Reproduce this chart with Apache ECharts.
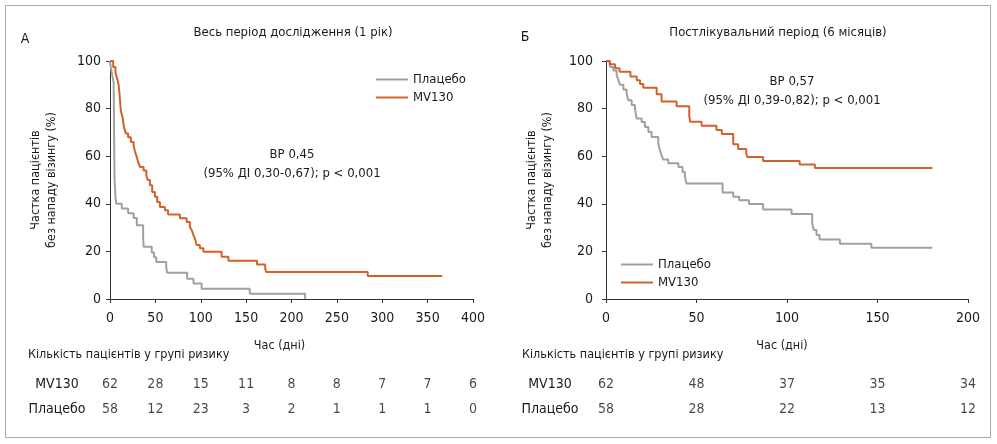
<!DOCTYPE html>
<html lang="uk">
<head>
	<meta charset="utf-8" />
	<title>Kaplan-Meier MV130</title>
	<script src="https://cdn.jsdelivr.net/npm/echarts@6/dist/echarts.min.js"></script>
	<style>
		html, body { margin: 0; padding: 0; background: #fff; }
		#chart { width: 997px; height: 444px; }
	</style>
</head>
<body>
	<div id="chart"></div>
	<script>
		// криві Каплана-Мейєра: [день, % без нападу]
		var leftMv = [[0,100],[3.5,97.5],[6,95],[8,92.5],[9.5,90],[10.5,86],[11,83.5],[12,79],[14,76],[15.5,72],
			[17.5,69.5],[20,68],[23,66],[26,64.5],[27.5,62],[29.5,59.7],[31,57.6],[33,55.5],[37,54],[40,52],
			[41.5,50],[44,47.8],[46.5,45],[49.5,43],[52,40.8],[55,38.7],[60.5,37.3],[64,35.5],[77,33.9],[84.5,32.4],
			[88,30.3],[90,29],[92,26.8],[94,24.8],[95.5,22.7],[99,21.3],[103,19.9],[123,17.8],[130.5,16.1],
			[162,14.5],[171,12.9],[172,11.3],[284,9.7],[366,9.7]];
		var leftPl = [[0,100],[1,97],[2,95],[3,93],[4,91],[5,50],[5.5,47],[6,43],[7,40],[13,38],[20,36],[26,34],
			[29.5,31],[36.5,26],[37,22],[46,19.5],[48.5,17.5],[51,15.5],[62,13],[63,11],[85,8.5],[92,6.5],
			[101,4.3],[154,2.2],[215,0]];
		var rightMv = [[0,100],[2,98.6],[5,97],[7.5,95.5],[13.5,93.5],[17,91.9],[18.8,90.3],[20.6,88.8],[28,86],
			[30.7,83],[39,81],[46,77],[46.5,74.5],[52.8,72.8],[61,71],[64,69.3],[70.3,65],[73,63],[77.5,61],
			[78,59.7],[86.8,58],[107,56.5],[115.4,55],[180.3,55]];
		var rightPl = [[0,100],[2.2,97.5],[4,96],[5.9,94],[6.8,92],[7.7,90],[9.6,88],[11.4,86.3],[12.3,83.5],
			[14.2,81.5],[16,80],[16.9,75.8],[19.7,74.4],[21.5,72.3],[23.4,70.2],[25.2,68.1],[28.9,65.3],[29.8,62.5],
			[30.7,60.4],[31.6,58.6],[34.4,57],[40,55.5],[42.3,53.4],[43.6,51.3],[44.5,48.5],[64.4,44.7],[70.3,43],
			[73.6,41.5],[79,39.9],[86.8,37.6],[102.5,35.7],[113.9,31.7],[114.8,29],[116.3,26.9],[118,25],
			[129.2,23.2],[146.6,21.5],[180.3,21.5]];

		// кількість пацієнтів у групі ризику
		var leftRiskDays = [0, 50, 100, 150, 200, 250, 300, 350, 400];
		var leftRiskMv = [62, 28, 15, 11, 8, 8, 7, 7, 6];
		var leftRiskPl = [58, 12, 23, 3, 2, 1, 1, 1, 0];
		var rightRiskDays = [0, 50, 100, 150, 200];
		var rightRiskMv = [62, 48, 37, 35, 34];
		var rightRiskPl = [58, 28, 22, 13, 12];

		var groups = ['MV130', 'Плацебо'];
		var colMv = '#d2622a';
		var colPl = '#a0a0a0';
		var font = "'DejaVu Sans Condensed', 'DejaVu Sans', sans-serif";
		var ink = '#1a1a1a';

		function riskRows(days, mv, pl) {
			var rows = [];
			for (var i = 0; i < days.length; i++) {
				rows.push([days[i], groups[0], mv[i]]);
				rows.push([days[i], groups[1], pl[i]]);
			}
			return rows;
		}

		function kmX(max, shift) {
			return {
				type: 'value', min: 0, max: max, interval: 50,
				name: 'Час (дні)', nameLocation: 'middle', nameGap: 40,
				nameTextStyle: { fontSize: 12.5, color: ink, fontFamily: font, padding: [0, shift, 0, 0] },
				axisLine: { lineStyle: { color: '#333', width: 1 } },
				axisTick: { length: 4, lineStyle: { color: '#333' } },
				axisLabel: { fontSize: 14, color: ink, fontFamily: font, margin: 12 },
				splitLine: { show: false }
			};
		}
		function kmY(margin) {
			return {
				type: 'value', min: 0, max: 100, interval: 20,
				name: 'Частка пацієнтів\nбез нападу візингу (%)', nameLocation: 'middle', nameGap: 50,
				nameTextStyle: { fontSize: 12.5, color: ink, fontFamily: font, lineHeight: 16 },
				axisLine: { show: true, lineStyle: { color: '#333', width: 1 } },
				axisTick: { show: true, length: 4, lineStyle: { color: '#333' } },
				axisLabel: { fontSize: 14, color: ink, fontFamily: font, margin: margin },
				splitLine: { show: false }
			};
		}
		function riskX(max) {
			return { type: 'value', min: 0, max: max, show: false };
		}
		function riskY(margin) {
			return {
				type: 'category', data: groups, inverse: true,
				axisLine: { show: false }, axisTick: { show: false },
				axisLabel: { fontSize: 14, color: ink, fontFamily: font, align: 'center', margin: margin }
			};
		}
		function km(name, data, color, idx) {
			return {
				name: name, type: 'line', step: 'end', data: data,
				xAxisIndex: idx, yAxisIndex: idx,
				symbol: 'none', animation: false,
				lineStyle: { color: color, width: 2 }, itemStyle: { color: color }
			};
		}
		function risk(data, idx) {
			return {
				type: 'scatter', data: data, xAxisIndex: idx, yAxisIndex: idx,
				symbolSize: 1, itemStyle: { color: 'rgba(0,0,0,0)' }, silent: true, animation: false,
				label: {
					show: true, position: 'inside', fontSize: 14, color: ink, fontFamily: font,
					formatter: function (p) { return p.value[2]; }
				}
			};
		}
		function txt(x, y, s, size, align) {
			return {
				type: 'text', x: x, y: y, silent: true,
				style: { text: s, fontSize: size, fontFamily: font, fill: ink,
					textAlign: align || 'center', textVerticalAlign: 'middle', lineHeight: 19 }
			};
		}

		var dom = document.getElementById('chart');
		var myChart = echarts.init(dom);

		var legendBase = {
			orient: 'vertical', itemWidth: 32, itemHeight: 14, itemGap: 5, padding: 0,
			itemStyle: { opacity: 0 },
			lineStyle: { width: 2 },
			textStyle: { fontSize: 13, color: ink, fontFamily: font },
			data: ['Плацебо', 'MV130']
		};

		var option = {
			backgroundColor: '#fff',
			textStyle: { fontFamily: font },
			grid: [
				{ left: 110, width: 363, top: 61, height: 238 },
				{ left: 606, width: 362, top: 61, height: 238 },
				{ left: 110, width: 363, top: 372, height: 50 },
				{ left: 606, width: 362, top: 372, height: 50 }
			],
			xAxis: [
				Object.assign(kmX(400, 24), { gridIndex: 0 }),
				Object.assign(kmX(200, 10), { gridIndex: 1 }),
				Object.assign(riskX(400), { gridIndex: 2 }),
				Object.assign(riskX(200), { gridIndex: 3 })
			],
			yAxis: [
				Object.assign(kmY(9), { gridIndex: 0 }),
				Object.assign(kmY(13), { gridIndex: 1 }),
				Object.assign(riskY(53), { gridIndex: 2 }),
				Object.assign(riskY(56), { gridIndex: 3 })
			],
			legend: [
				Object.assign({ left: 375, top: 73 }, legendBase),
				Object.assign({ left: 620, top: 258 }, legendBase)
			],
			graphic: [
				{ type: 'rect', silent: true, shape: { x: 5.5, y: 5.5, width: 985, height: 432 },
					style: { fill: 'none', stroke: '#a8a8a8', lineWidth: 1 } },
				txt(25, 39, 'А', 14),
				txt(525, 37, 'Б', 14),
				txt(293, 33, 'Весь період дослідження (1 рік)', 13),
				txt(778, 33, 'Постлікувальний період (6 місяців)', 13),
				txt(292, 164, 'ВР 0,45\n(95% ДІ 0,30-0,67); p < 0,001', 13),
				txt(792, 91, 'ВР 0,57\n(95% ДІ 0,39-0,82); p < 0,001', 13),
				txt(28, 355, 'Кількість пацієнтів у групі ризику', 12.5, 'left'),
				txt(522, 355, 'Кількість пацієнтів у групі ризику', 12.5, 'left')
			],
			series: [
				km('Плацебо', leftPl, colPl, 0),
				km('MV130', leftMv, colMv, 0),
				km('Плацебо', rightPl, colPl, 1),
				km('MV130', rightMv, colMv, 1),
				risk(riskRows(leftRiskDays, leftRiskMv, leftRiskPl), 2),
				risk(riskRows(rightRiskDays, rightRiskMv, rightRiskPl), 3)
			]
		};
		myChart.setOption(option);
	</script>
</body>
</html>
